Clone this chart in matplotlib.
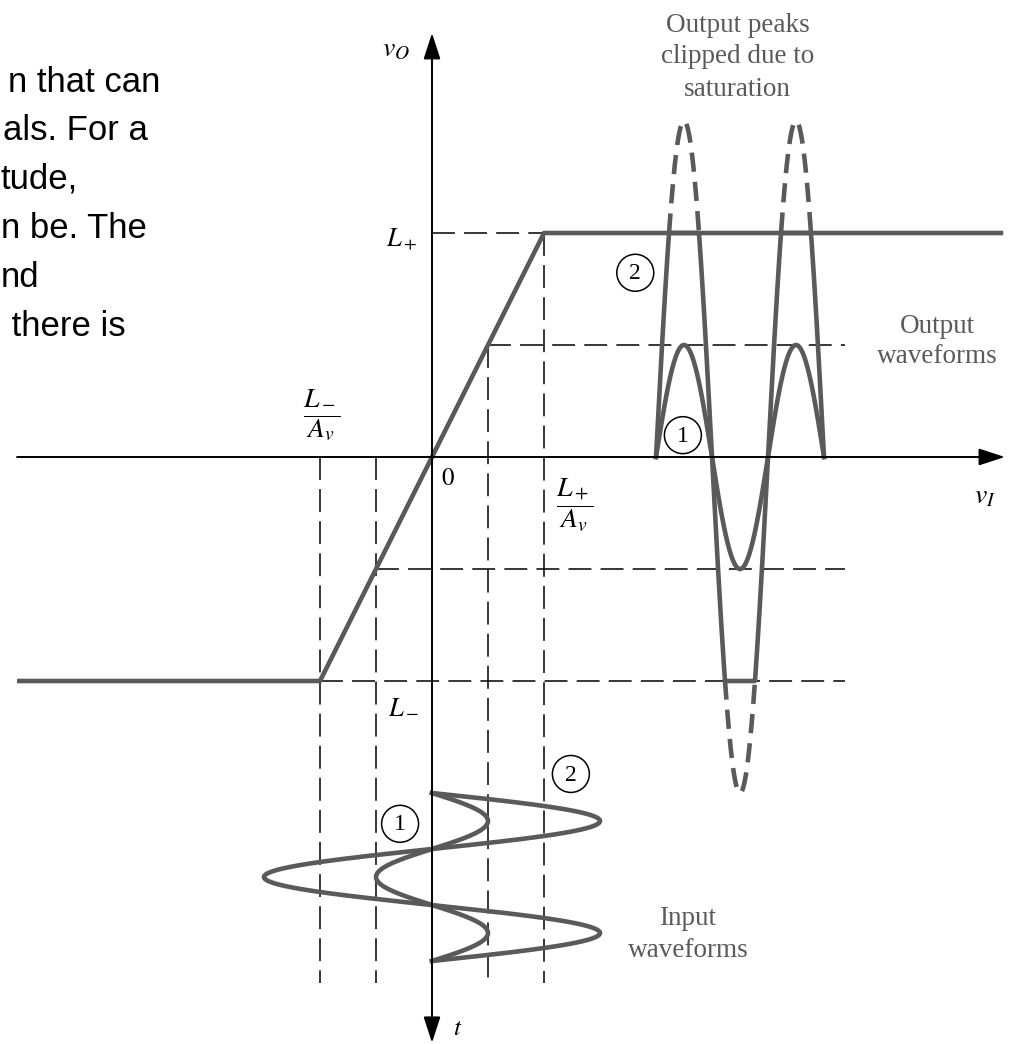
import numpy as np
import matplotlib.pyplot as plt
from matplotlib.patches import Circle

plt.rcParams['mathtext.fontset'] = 'stix'

# transfer characteristic, units of one input-1 amplitude
gain = 2.0
L_minus, L_plus = -4.0, 4.0
vi_sweep = [-7.41, L_minus / gain, L_plus / gain, 10.2]

# input sine amplitudes for waveforms 1 and 2
amp_in = [1.0, 3.0]
cycles = 1.5
t_in_start = -6.0    # input time axis hangs down the v_O axis
t_out_start = 4.0    # output time axis runs along v_I

# cut-off lines of slide text on the left
side_text = ["n that can", "als. For a", "tude,", "n be. The", "nd", " there is"]

gray = '#5a5a5a'
thick = 3.3
thin_dash = (0, (15, 6))
thick_dash = (0, (4.2, 2.2))

fig = plt.figure(figsize=(10.11, 10.44), dpi=100)
ax = fig.add_axes([0, 0, 1, 1])
ax.set_xlim(-432 / 56, (1011 - 432) / 56)
ax.set_ylim((457 - 1044) / 56, 457 / 56)
ax.axis('off')

# dashed projection lines
guide_bottom = -9.39
guide_right = 7.375
a1 = amp_in[0]
ax.plot([0, L_plus / gain], [L_plus, L_plus], color='k', lw=1.1, ls=thin_dash)
for y0, x0 in [(gain * a1, a1), (-gain * a1, -a1), (L_minus, L_minus / gain)]:
    ax.plot([x0, guide_right], [y0, y0], color='k', lw=1.1, ls=thin_dash)
for x0, y0 in [(L_minus / gain, 0), (-a1, 0), (a1, gain * a1), (L_plus / gain, L_plus)]:
    ax.plot([x0, x0], [y0, guide_bottom], color='k', lw=1.1, ls=thin_dash)

# transfer curve
vo_sweep = np.clip(gain * np.array(vi_sweep), L_minus, L_plus)
ax.plot(vi_sweep, vo_sweep, color=gray, lw=thick, solid_capstyle='butt', zorder=3)

phase = np.linspace(0, 2 * np.pi * cycles, 800)
for amp in amp_in:
    # input waveform, time going down
    ax.plot(amp * np.sin(phase), t_in_start - phase / np.pi, color=gray, lw=thick, zorder=3)
    # output waveform, clipped at the saturation levels
    raw = gain * amp * np.sin(phase)
    t_out = t_out_start + phase / np.pi
    ax.plot(t_out, np.clip(raw, L_minus, L_plus), color=gray, lw=thick, zorder=3)
    over = np.ma.masked_where(np.abs(raw) < L_plus - 0.02, raw)
    if over.count():
        ax.plot(t_out, over, color=gray, lw=thick, ls=thick_dash, zorder=3)

# axes with arrowheads
arrow = dict(arrowstyle='-|>,head_length=0.8,head_width=0.26', color='k', lw=1.4,
             mutation_scale=20, shrinkA=0, shrinkB=0)
ax.annotate('', xy=(10.23, 0), xytext=(-7.41, 0), arrowprops=arrow, zorder=5)
ax.annotate('', xy=(0, 7.57), xytext=(0, 0), arrowprops=arrow, zorder=5)
ax.annotate('', xy=(0, -10.46), xytext=(0, 0), arrowprops=arrow, zorder=5)

# axis and level labels
math_labels = [
    (r'$v_O$', -0.64, 7.30, 20),
    (r'$L_+$', -0.55, 3.88, 19),
    (r'$\dfrac{L_-}{A_v}$', -1.96, 0.75, 20),
    (r'$0$', 0.29, -0.37, 18),
    (r'$\dfrac{L_+}{A_v}$', 2.56, -0.87, 20),
    (r'$L_-$', -0.50, -4.45, 19),
    (r'$v_I$', 9.88, -0.68, 20),
    (r'$t$', 0.46, -10.2, 18),
]
for s, x, y, fs in math_labels:
    ax.text(x, y, s, fontsize=fs, ha='center', va='center', color='k')

# circled waveform numbers
for num, x, y in [('2', 3.63, 3.29), ('1', 4.48, 0.39), ('1', -0.57, -6.55), ('2', 2.48, -5.66)]:
    ax.add_patch(Circle((x, y), 0.33, fill=False, ec='k', lw=1.1, zorder=4))
    ax.text(x, y - 0.02, num, fontsize=17, family='Liberation Serif',
            ha='center', va='center', zorder=4)

# gray notes
notes = [
    (["Output peaks", "clipped due to", "saturation"], 5.46, [7.59, 7.04, 6.45]),
    (["Output", "waveforms"], 9.02, [2.21, 1.68]),
    (["Input", "waveforms"], 4.57, [-8.36, -8.93]),
]
for lines, x, ys in notes:
    for line, y in zip(lines, ys):
        ax.text(x, y, line, fontsize=19.5, family='Liberation Serif', color=gray,
                ha='center', va='baseline')

side_x = [-7.57, -7.66, -7.70, -7.70, -7.70, -7.68]
side_y = [6.52, 5.66, 4.80, 3.91, 3.04, 2.16]
for s, x, y in zip(side_text, side_x, side_y):
    ax.text(x, y, s, fontsize=25, family='Liberation Sans', color='k',
            ha='left', va='baseline')

fig.savefig('out.png', dpi=100)
